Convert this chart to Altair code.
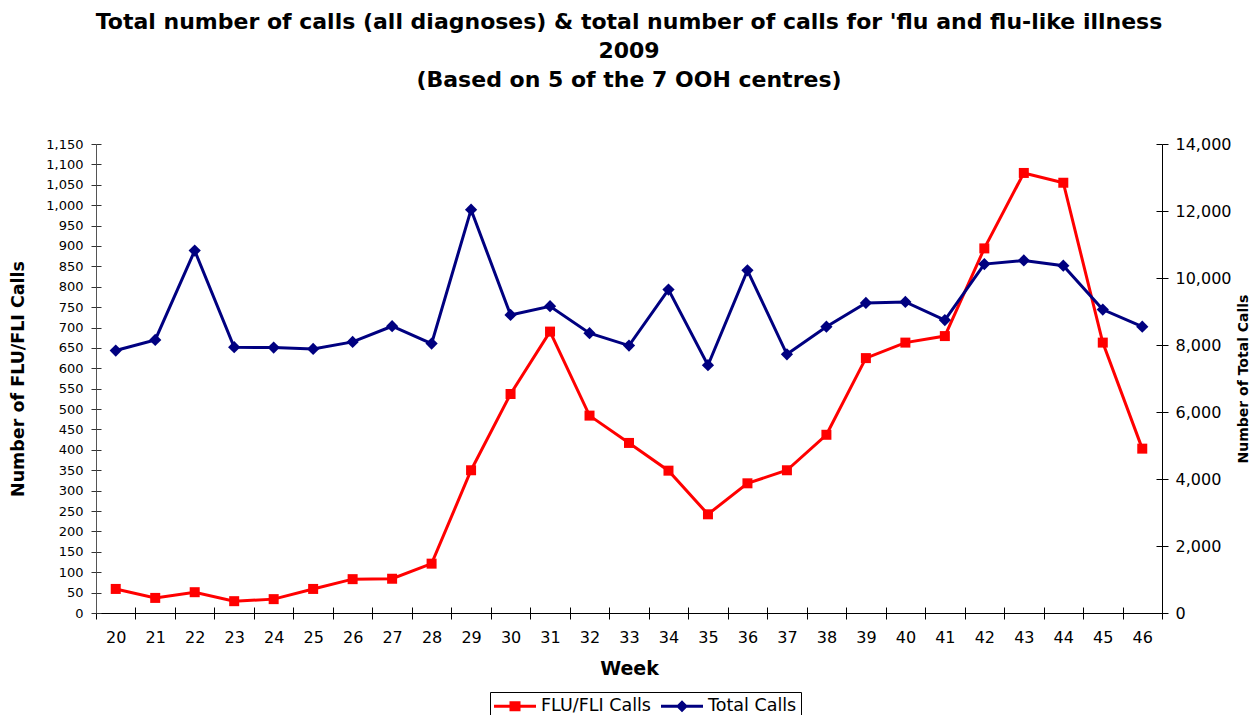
import altair as alt
import pandas as pd

weeks = list(range(20, 47))
flu_calls = [59, 37, 51, 29, 34, 59, 83, 84, 121, 350, 537, 690, 484, 417, 349,
             242, 318, 350, 437, 625, 663, 679, 894, 1079, 1055, 663, 403]
total_calls = [7834, 8152, 10818, 7933, 7923, 7883, 8092, 8560, 8042, 12040, 8898,
               9157, 8351, 7983, 9653, 7396, 10228, 7723, 8545, 9257, 9287, 8743,
               10416, 10525, 10366, 9059, 8545]
series_names = ["FLU/FLI Calls", "Total Calls"]
left_ticks = list(range(0, 1151, 50))
right_ticks = list(range(0, 14001, 2000))
title_lines = [
    "Total number of calls (all diagnoses) & total number of calls for 'flu and flu-like illness",
    "2009",
    "(Based on 5 of the 7 OOH centres)",
]

RED = "#FF0000"
NAVY = "#000080"
FONT = "DejaVu Sans"

df = pd.DataFrame({"Week": weeks, "FLU": flu_calls, "Total": total_calls})
long_df = pd.DataFrame({
    "Week": weeks + weeks,
    "Series": [series_names[0]] * len(weeks) + [series_names[1]] * len(weeks),
    "Value": flu_calls + flu_calls,
})

x_scale = alt.Scale(type="band", paddingInner=0, paddingOuter=0)
x_axis = alt.Axis(
    title="Week", labelAngle=0, labelFontSize=16, labelPadding=10, tickSize=6,
    tickBand="extent", domainColor="black", tickColor="black", labelColor="black",
    titleFontSize=19, titleFontWeight="bold", titleColor="black", titlePadding=14,
    grid=False,
)
x_axis_inner = alt.Axis(
    orient="bottom", offset=-6, tickSize=6, tickBand="extent", tickColor="black",
    labels=False, domain=False, title=None, grid=False,
)
x_enc = alt.X("Week:O", scale=x_scale, axis=x_axis)
x_enc_inner = alt.X("Week:O", scale=x_scale, axis=x_axis_inner)
x_enc_plain = alt.X("Week:O", scale=x_scale)

left_axis = alt.Axis(
    orient="left", values=left_ticks, format=",d", title="Number of FLU/FLI Calls",
    titleFontSize=17.5, titleFontWeight="bold", titleAngle=270, titleX=-78, titleY=234.5,
    titleBaseline="middle", titleAlign="center", titleColor="black",
    labelFontSize=13, labelColor="black", tickSize=5, labelPadding=8, labelOverlap=False,
    domainColor="#555555", tickColor="#333333", grid=False,
)
left_axis_inner = alt.Axis(
    orient="left", offset=-5, values=left_ticks, tickSize=5, tickColor="#333333",
    labels=False, domain=False, title=None, grid=False,
)
right_axis = alt.Axis(
    orient="right", values=right_ticks, format=",d", title="Number of Total Calls",
    titleFontSize=14, titleFontWeight="bold", titleAngle=270, titleX=81, titleY=234.5,
    titleBaseline="middle", titleAlign="center", titleColor="black",
    labelFontSize=16, labelColor="black", tickSize=6, labelPadding=7, labelOverlap=False,
    domainColor="black", tickColor="black", grid=False,
)
right_axis_inner = alt.Axis(
    orient="right", offset=-6, values=right_ticks, tickSize=6, tickColor="black",
    labels=False, domain=False, title=None, grid=False,
)

y_left_scale = alt.Scale(domain=[0, 1150], nice=False, zero=True)
y_right_scale = alt.Scale(domain=[0, 14000], nice=False, zero=True)

base = alt.Chart(df)

flu_line = base.mark_line(color=RED, strokeWidth=3).encode(
    x=x_enc, y=alt.Y("FLU:Q", scale=y_left_scale, axis=left_axis)
)
flu_pts = base.mark_point(shape="square", filled=True, size=100, color=RED, opacity=1).encode(
    x=x_enc_plain, y=alt.Y("FLU:Q", scale=y_left_scale, axis=left_axis_inner)
)

# legend symbols: a 3px bar (the line) with the marker on it, all filled
square_path = "M-1,-0.15L3.2,-0.15L3.2,0.15L-1,0.15Z M0.55,-0.5L1.65,-0.5L1.65,0.5L0.55,0.5Z"
diamond_path = "M-1,-0.15L3.2,-0.15L3.2,0.15L-1,0.15Z M1.1,-0.6L1.7,0L1.1,0.6L0.5,0Z"

legend = alt.Legend(
    orient="none", legendX=394, legendY=548, direction="horizontal", title=None,
    labelFontSize=17.5, labelFont=FONT, labelColor="black", symbolStrokeWidth=0,
    symbolSize=400, symbolOpacity=1, strokeColor="black", fillColor="white",
    padding=4, columnPadding=10, labelOffset=27,
)
legend_layer = alt.Chart(long_df).mark_point(opacity=0, filled=True, size=400).encode(
    x=x_enc_plain,
    y=alt.Y("Value:Q", scale=y_left_scale, axis=None),
    color=alt.Color("Series:N", scale=alt.Scale(domain=series_names, range=[RED, NAVY]), legend=legend),
    shape=alt.Shape("Series:N", scale=alt.Scale(domain=series_names, range=[square_path, diamond_path]), legend=legend),
)

left_layer = alt.layer(flu_line, flu_pts, legend_layer).resolve_axis(y="independent")

tot_line = base.mark_line(color=NAVY, strokeWidth=3).encode(
    x=x_enc_inner, y=alt.Y("Total:Q", scale=y_right_scale, axis=right_axis)
)
tot_pts = base.mark_point(shape="diamond", filled=True, size=150, color=NAVY, opacity=1).encode(
    x=x_enc_plain, y=alt.Y("Total:Q", scale=y_right_scale, axis=right_axis_inner)
)
right_layer = alt.layer(tot_line, tot_pts).resolve_axis(y="independent")

chart = alt.layer(left_layer, right_layer).resolve_scale(y="independent").resolve_axis(
    x="independent"
).properties(
    width=1066,
    height=469,
    padding={"left": 88, "top": 136, "right": 88, "bottom": 110},
    autosize=alt.AutoSizeParams(type="none"),
    title=alt.TitleParams(
        text=title_lines, anchor="middle", frame="group", fontSize=22, font=FONT,
        fontWeight="bold", lineHeight=29, color="black", offset=44,
    ),
).configure(font=FONT).configure_view(strokeWidth=0)

chart.save("out.html", embed_options={"renderer": "svg", "actions": False})
